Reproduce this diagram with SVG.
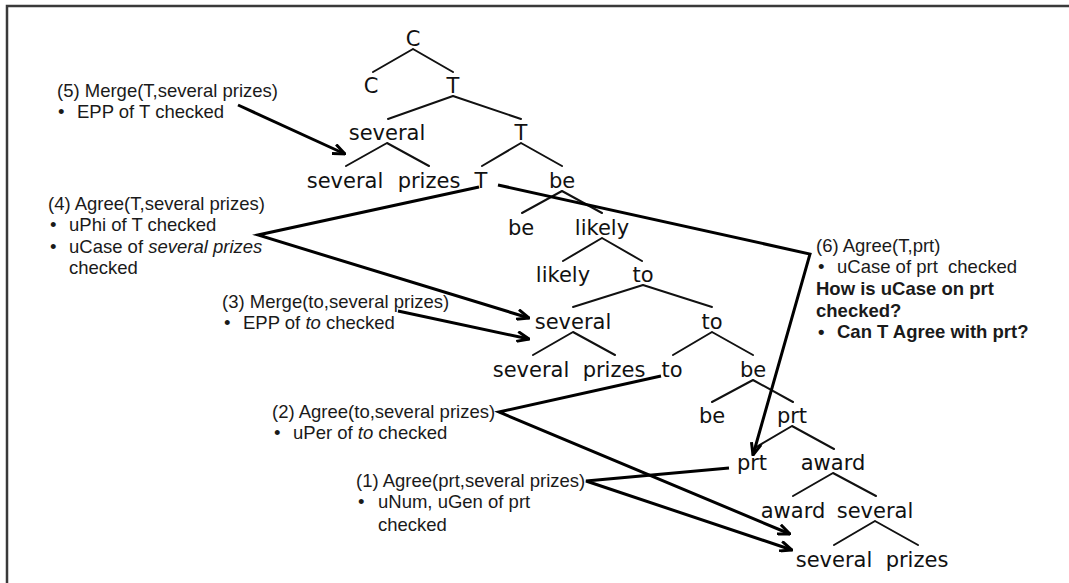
<svg xmlns="http://www.w3.org/2000/svg" width="1069" height="583" viewBox="0 0 1069 583">
  <style>
    .node { font-family: "DejaVu Sans", "Liberation Sans", sans-serif; font-size: 21px; fill: #111; text-anchor: middle; }
    .note { font-family: "Liberation Sans", Arial, sans-serif; font-size: 18.5px; fill: #1a1a1a; }
    .b { font-weight: bold; }
    .i { font-style: italic; }
    .branch { stroke: #111; stroke-width: 2; fill: none; stroke-linecap: round; }
    .link { stroke: #000; stroke-width: 3; fill: none; stroke-linejoin: miter; }
  </style>
  <defs>
    <marker id="arrow" viewBox="0 0 14 12" markerWidth="14" markerHeight="12" refX="13" refY="6" orient="auto" markerUnits="userSpaceOnUse">
      <path d="M1,1 L13,6 L1,11" fill="none" stroke="#000" stroke-width="3"/>
    </marker>
  </defs>

  <rect x="0" y="0" width="1069" height="583" fill="#fff"/>
  <rect x="7" y="6" width="1080" height="600" fill="none" stroke="#3a3a3a" stroke-width="2.5"/>

  <!-- tree branches -->
  <g id="branches" class="branch">
    <path d="M413,49 L373,72 M413,49 L453,72"/>
    <path d="M453,96 L388,119 M453,96 L521,119"/>
    <path d="M387,143 L346,166 M387,143 L429,166"/>
    <path d="M521,143 L482,166 M521,143 L562,166"/>
    <path d="M562,191 L522,213 M562,191 L602,213"/>
    <path d="M602,238 L563,261 M602,238 L642,261"/>
    <path d="M643,285 L573,307 M643,285 L712,307"/>
    <path d="M573,332 L533,355 M573,332 L615,355"/>
    <path d="M712,332 L673,355 M712,332 L753,355"/>
    <path d="M753,380 L712,402 M753,380 L793,402"/>
    <path d="M792,426 L753,449 M792,426 L834,449"/>
    <path d="M833,473 L793,496 M833,473 L876,496"/>
    <path d="M875,521 L834,545 M875,521 L918,545"/>
  </g>

  <!-- tree nodes -->
  <g id="n-C" class="node"><text x="413" y="46">C</text></g>
  <g id="n-C-head" class="node"><text x="371" y="93">C</text></g>
  <g id="n-T1" class="node"><text x="453" y="93">T</text></g>
  <g id="n-several-spec" class="node"><text x="387" y="140">several</text></g>
  <g id="n-T2" class="node"><text x="521" y="140">T</text></g>
  <g id="n-several-a" class="node"><text x="345" y="188">several</text></g>
  <g id="n-prizes-a" class="node"><text x="429" y="188">prizes</text></g>
  <g id="n-T3" class="node"><text x="481" y="188">T</text></g>
  <g id="n-be1" class="node"><text x="562" y="188">be</text></g>
  <g id="n-be2" class="node"><text x="521" y="235">be</text></g>
  <g id="n-likely1" class="node"><text x="602" y="235">likely</text></g>
  <g id="n-likely2" class="node"><text x="563" y="282">likely</text></g>
  <g id="n-to1" class="node"><text x="643" y="282">to</text></g>
  <g id="n-several-b" class="node"><text x="573" y="329">several</text></g>
  <g id="n-to2" class="node"><text x="712" y="329">to</text></g>
  <g id="n-several-c" class="node"><text x="531" y="377">several</text></g>
  <g id="n-prizes-c" class="node"><text x="614" y="377">prizes</text></g>
  <g id="n-to3" class="node"><text x="672" y="377">to</text></g>
  <g id="n-be3" class="node"><text x="753" y="377">be</text></g>
  <g id="n-be4" class="node"><text x="712" y="423">be</text></g>
  <g id="n-prt1" class="node"><text x="792" y="423">prt</text></g>
  <g id="n-prt2" class="node"><text x="752" y="470">prt</text></g>
  <g id="n-award1" class="node"><text x="833" y="470">award</text></g>
  <g id="n-award2" class="node"><text x="793" y="518">award</text></g>
  <g id="n-several-d" class="node"><text x="875" y="518">several</text></g>
  <g id="n-several-e" class="node"><text x="834" y="567">several</text></g>
  <g id="n-prizes-e" class="node"><text x="917" y="567">prizes</text></g>

  <!-- annotations -->
  <g id="note5" class="note">
    <text x="57" y="97">(5) Merge(T,several prizes)</text>
    <text y="118"><tspan x="58">•</tspan><tspan x="77">EPP of T checked</tspan></text>
  </g>
  <g id="note4" class="note">
    <text x="48" y="210">(4) Agree(T,several prizes)</text>
    <text y="231"><tspan x="50">•</tspan><tspan x="69">uPhi of T checked</tspan></text>
    <text y="253"><tspan x="50">•</tspan><tspan x="69">uCase of </tspan><tspan class="i">several prizes</tspan></text>
    <text x="69" y="274">checked</text>
  </g>
  <g id="note3" class="note">
    <text x="222" y="308">(3) Merge(to,several prizes)</text>
    <text y="329"><tspan x="224">•</tspan><tspan x="243">EPP of </tspan><tspan class="i">to</tspan><tspan> checked</tspan></text>
  </g>
  <g id="note2" class="note">
    <text x="272" y="418">(2) Agree(to,several prizes)</text>
    <text y="439"><tspan x="274">•</tspan><tspan x="293">uPer of </tspan><tspan class="i">to</tspan><tspan> checked</tspan></text>
  </g>
  <g id="note1" class="note">
    <text x="356" y="487">(1) Agree(prt,several prizes)</text>
    <text y="508"><tspan x="358">•</tspan><tspan x="378">uNum, uGen of prt</tspan></text>
    <text x="378" y="531">checked</text>
  </g>
  <g id="note6" class="note">
    <text x="816" y="252">(6) Agree(T,prt)</text>
    <text y="273"><tspan x="818">•</tspan><tspan x="837">uCase of prt&#160; checked</tspan></text>
    <text class="b" x="816" y="295">How is uCase on prt</text>
    <text class="b" x="816" y="317">checked?</text>
    <text class="b" y="338"><tspan x="818">•</tspan><tspan x="837">Can T Agree with prt?</tspan></text>
  </g>

  <!-- connectors -->
  <g id="connectors" class="link">
    <path d="M238,105 L345,154" marker-end="url(#arrow)"/>
    <path d="M479,187 L258,235 L529,318" marker-end="url(#arrow)"/>
    <path d="M398,311 L529,339" marker-end="url(#arrow)"/>
    <path d="M498,185 L810,254 L753,455" marker-end="url(#arrow)"/>
    <path d="M661,376 L499,412 L790,534" marker-end="url(#arrow)"/>
    <path d="M729,468 L586,481 L792,550" marker-end="url(#arrow)"/>
  </g>
</svg>
